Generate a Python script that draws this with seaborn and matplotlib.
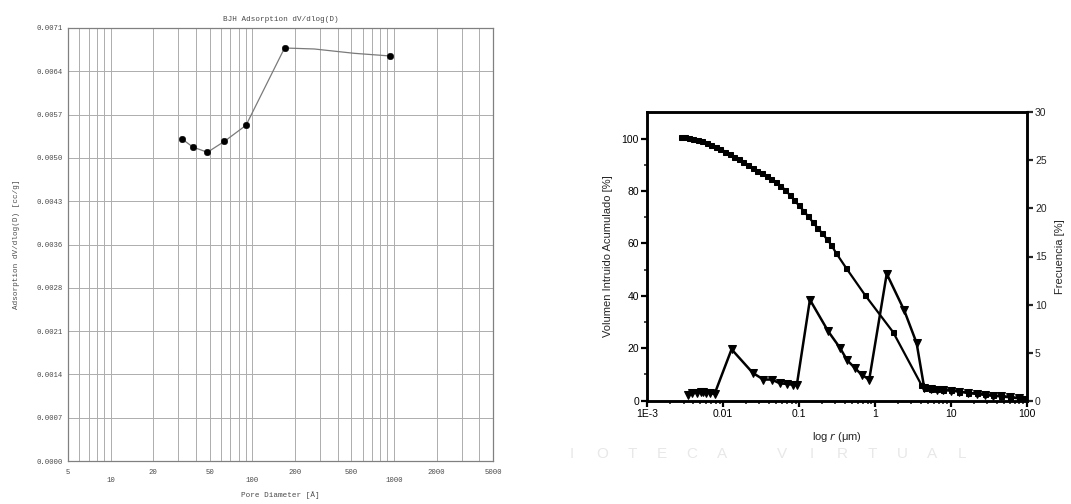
import numpy as np
import pandas as pd
import matplotlib
matplotlib.use("Agg")
import matplotlib.pyplot as plt
import matplotlib.ticker as mticker
import seaborn as sns

# ---------------- data: left chart (BJH) ----------------
bjh_diam = [31.7, 38.0, 48.2, 63.6, 90.3, 168.9, 942.0]
bjh_dvdlogd = [0.005285, 0.005149, 0.005062, 0.005242, 0.005505, 0.006772, 0.006641]
bjh_line_diam = [31.7, 38.0, 48.2, 63.6, 90.3, 168.9, 273.5, 524.0, 942.0]
bjh_line_val = [0.005285, 0.005149, 0.005062, 0.005242, 0.005505, 0.006772, 0.006756, 0.006685, 0.006641]
bjh_yticks = [0.0, 0.00071, 0.00142, 0.00213, 0.00284, 0.00355, 0.00426, 0.00497, 0.00568, 0.00639, 0.0071]
bjh_ylabels = ["0.0000", "0.0007", "0.0014", "0.0021", "0.0028", "0.0036", "0.0043",
               "0.0050", "0.0057", "0.0064", "0.0071"]
bjh_xticks = [5, 10, 20, 50, 100, 200, 500, 1000, 2000, 5000]
bjh_xlabels = ["5", "\n10", "20", "50", "\n100", "200", "500", "\n1000", "2000", "5000"]

# ---------------- data: right chart (porosimetry) ----------------
cum_r = [0.0028, 0.0031, 0.0035, 0.0040, 0.0046, 0.0053, 0.0061, 0.0070, 0.0080, 0.0092,
         0.0106, 0.0122, 0.0140, 0.0161, 0.0185, 0.0213, 0.0245, 0.0282, 0.0324, 0.0373,
         0.0429, 0.0494, 0.0568, 0.0653, 0.0752, 0.0865, 0.0995, 0.114, 0.131, 0.151,
         0.174, 0.200, 0.230, 0.265, 0.305, 0.42, 0.74, 1.74, 4.1, 4.6, 5.5, 6.5, 8.0,
         10, 13, 17, 22, 28, 36, 46, 60, 78, 95]
cum_v = [100.5, 100.4, 100.2, 99.8, 99.3, 98.9, 98.3, 97.6, 96.9, 96.0,
         95.0, 94.0, 93.0, 92.0, 90.9, 89.9, 88.9, 87.8, 86.8, 85.7,
         84.6, 83.3, 81.9, 80.5, 78.5, 76.5, 74.5, 72.5, 70.4, 68.2,
         66.0, 64.0, 61.8, 59.5, 56.5, 50.5, 40.3, 26.1, 6.0, 5.0, 4.6, 4.4, 4.2,
         4.0, 3.5, 3.0, 2.8, 2.5, 2.0, 1.8, 1.5, 1.0, 0.8]

freq_r = [0.0034, 0.0039, 0.0045, 0.0051, 0.0055, 0.0059, 0.0067, 0.0077, 0.0129, 0.0245,
          0.0339, 0.0436, 0.056, 0.0687, 0.0839, 0.0933, 0.139, 0.243, 0.346, 0.431,
          0.545, 0.668, 0.841, 1.43, 2.43, 3.54, 4.47, 5.5, 6.5, 8, 10, 13, 17, 22, 28,
          36, 46, 60, 78, 95]
freq_v = [0.6, 0.75, 0.85, 0.95, 0.95, 0.85, 0.8, 0.7, 5.35, 2.9,
          2.2, 2.2, 1.8, 1.75, 1.65, 1.6, 10.5, 7.2, 5.5, 4.2,
          3.4, 2.7, 2.2, 13.2, 9.4, 6.0, 1.3, 1.2, 1.15, 1.1, 1.05, 0.95, 0.8, 0.7, 0.6,
          0.5, 0.45, 0.35, 0.25, 0.1]

watermark = ["I", "O", "T", "E", "C", "A", "V", "I", "R", "T", "U", "A", "L"]

# ---------------- figure ----------------
sns.set_theme(style="white")
plt.rcParams["font.family"] = ["Liberation Sans", "DejaVu Sans"]

fig = plt.figure(figsize=(10.71, 5.04), dpi=100)
W, H = 1071, 504

def frac(x0, y0, x1, y1):
    return [x0 / W, 1 - y1 / H, (x1 - x0) / W, (y1 - y0) / H]

# ---------- left chart ----------
axL = fig.add_axes(frac(68, 28, 493, 461))
axL.set_xscale("log")
mono = ["Liberation Mono", "DejaVu Sans Mono"]
tcol = "#4a4a4a"

sns.lineplot(x=bjh_line_diam, y=bjh_line_val, ax=axL, color="#7a7a7a", lw=0.9,
             estimator=None, sort=False)
sns.scatterplot(x=bjh_diam, y=bjh_dvdlogd, ax=axL, color="black", s=22,
                edgecolor="black", zorder=5)
axL.set_xlim(5, 5000)
axL.set_ylim(0, 0.0071)
axL.set_yticks(bjh_yticks)
axL.set_yticklabels(bjh_ylabels, family=mono, fontsize=5.2, color=tcol)
axL.xaxis.set_major_locator(mticker.FixedLocator(bjh_xticks))
axL.set_xticklabels(bjh_xlabels, family=mono, fontsize=5.2, color=tcol)
axL.xaxis.set_minor_locator(mticker.LogLocator(base=10, subs=np.arange(2, 10)))
axL.xaxis.set_minor_formatter(mticker.NullFormatter())
axL.tick_params(axis="y", which="both", length=0, pad=4)
axL.tick_params(axis="x", which="both", length=0, pad=6)
axL.grid(True, which="both", axis="x", color="#adadad", lw=0.7)
axL.grid(True, which="major", axis="y", color="#adadad", lw=0.7)
for s in axL.spines.values():
    s.set_color("#808080")
    s.set_linewidth(0.9)
axL.set_title("BJH Adsorption dV/dlog(D)", family=mono, fontsize=5.5, color=tcol, pad=5)
axL.set_xlabel("Pore Diameter [Å]", family=mono, fontsize=5.5, color=tcol, labelpad=5)
axL.set_ylabel("Adsorption dV/dlog(D) [cc/g]", family=mono, fontsize=5.5, color=tcol,
               labelpad=12)

# ---------- right chart ----------
axR = fig.add_axes(frac(647.3, 112.3, 1026.7, 400.7))
axR.set_xscale("log")
sns.lineplot(x=cum_r, y=cum_v, ax=axR, color="black", lw=1.6, marker="s", markersize=3.6,
             markeredgecolor="black", estimator=None, sort=False)
axR.set_xlim(1e-3, 100)
axR.set_ylim(0, 110)
axR.set_yticks([0, 20, 40, 60, 80, 100])
axR.yaxis.set_minor_locator(mticker.FixedLocator([10, 30, 50, 70, 90]))
axR.xaxis.set_major_locator(mticker.FixedLocator([1e-3, 1e-2, 1e-1, 1, 10, 100]))
axR.set_xticklabels(["1E-3", "0.01", "0.1", "1", "10", "100"])
axR.xaxis.set_minor_locator(mticker.LogLocator(base=10, subs=np.arange(2, 10)))
axR.xaxis.set_minor_formatter(mticker.NullFormatter())
axR.tick_params(axis="both", which="major", direction="out", length=4, width=1.6,
                labelsize=7.5, colors="black", pad=2, bottom=True, left=True)
axR.tick_params(axis="both", which="minor", direction="out", length=2, width=1.2,
                bottom=True, left=True)
for s in axR.spines.values():
    s.set_color("black")
    s.set_linewidth(1.8)
axR.set_xlabel("log $\\it{r}$ (μm)", fontsize=8, labelpad=8)
axR.set_ylabel("Volumen Intruido Acumulado [%]", fontsize=8, labelpad=6)

axR2 = axR.twinx()
sns.lineplot(x=freq_r, y=freq_v, ax=axR2, color="black", lw=1.8, marker="v", markersize=6,
             markeredgecolor="black", estimator=None, sort=False)
axR2.set_ylim(0, 30)
axR2.set_yticks([0, 5, 10, 15, 20, 25, 30])
axR2.tick_params(axis="y", which="major", direction="out", length=4, width=1.6,
                 labelsize=7.5, pad=2, right=True)
axR2.set_ylabel("Frecuencia [%]", fontsize=8, labelpad=6)
for s in axR2.spines.values():
    s.set_color("black")
    s.set_linewidth(1.8)

# ---------- watermark ----------
xs = []
x = 572
for i, ch in enumerate(watermark):
    xs.append(x)
    x += 60 if i == 5 else 30
for ch, xp in zip(watermark, xs):
    fig.text(xp / W, 1 - 454 / H, ch, fontsize=11, color="#e8e8e8", ha="center", va="center")

fig.savefig("out.png", dpi=100)
